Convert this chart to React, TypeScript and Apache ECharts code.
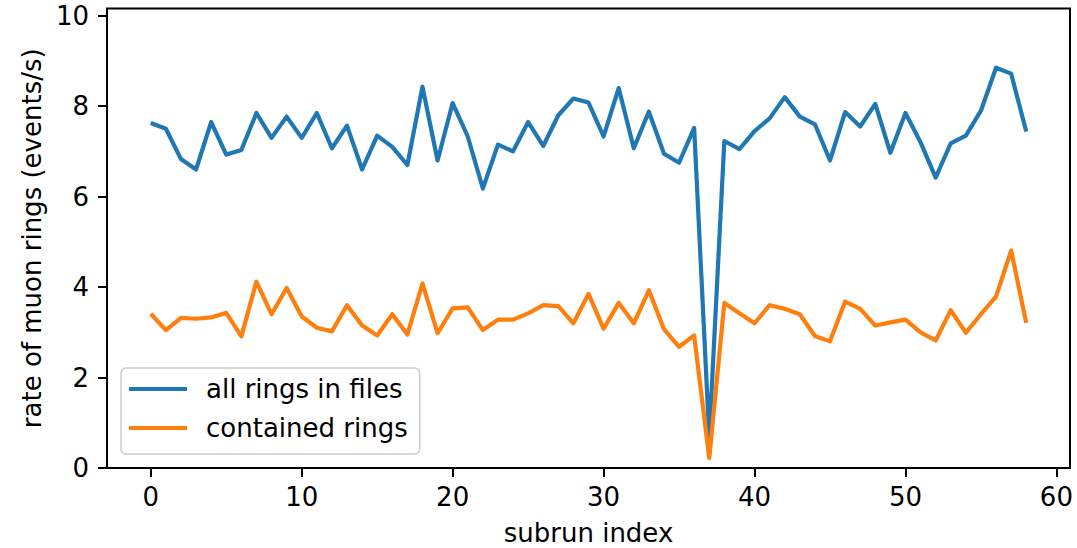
import React, { useEffect, useRef } from "react";
import * as echarts from "echarts";

const subrunIndex: number[] = Array.from({ length: 59 }, (_, i) => i);

const allRings: number[] = [
  7.63, 7.5, 6.83, 6.6, 7.65, 6.93, 7.03, 7.85, 7.3, 7.77,
  7.3, 7.85, 7.07, 7.57, 6.6, 7.35, 7.1, 6.7, 8.43, 6.8,
  8.07, 7.33, 6.18, 7.15, 7.0, 7.65, 7.12, 7.8, 8.17, 8.08,
  7.33, 8.4, 7.07, 7.88, 6.95, 6.75, 7.52, 0.68, 7.23, 7.05,
  7.45, 7.73, 8.2, 7.77, 7.6, 6.8, 7.87, 7.55, 8.05, 6.97,
  7.85, 7.2, 6.42, 7.18, 7.35, 7.9, 8.85, 8.72, 7.44,
];

const containedRings: number[] = [
  3.41, 3.05, 3.32, 3.3, 3.33, 3.43, 2.91, 4.12, 3.4, 3.98,
  3.35, 3.1, 3.02, 3.6, 3.15, 2.93, 3.4, 2.95, 4.08, 2.98,
  3.53, 3.55, 3.05, 3.28, 3.28, 3.42, 3.6, 3.58, 3.2, 3.85,
  3.08, 3.65, 3.2, 3.93, 3.07, 2.68, 2.93, 0.22, 3.65, 3.42,
  3.2, 3.6, 3.52, 3.4, 2.92, 2.8, 3.68, 3.52, 3.15, 3.22,
  3.28, 3.0, 2.82, 3.49, 2.99, 3.4, 3.79, 4.81, 3.21,
];

const xTicks: number[] = [0, 10, 20, 30, 40, 50, 60];
const yTicks: number[] = [0, 2, 4, 6, 8, 10];

const seriesNames: string[] = ["all rings in files", "contained rings"];
const seriesColors: string[] = ["#1f77b4", "#ff7f0e"];

const FONT = "DejaVu Sans";

export default function App() {
  const ref = useRef<HTMLDivElement>(null);

  useEffect(() => {
    if (!ref.current) return;
    const chart = echarts.init(ref.current, undefined, { renderer: "svg" });
    const seriesData = [allRings, containedRings];
    chart.setOption({
      animation: false,
      backgroundColor: "#ffffff",
      textStyle: { fontFamily: FONT },
      grid: {
        left: 107,
        right: 7,
        top: 8.5,
        bottom: 80,
        containLabel: false,
        outerBoundsMode: "none",
        show: true,
        borderColor: "#000000",
        borderWidth: 2,
        backgroundColor: "transparent",
      },
      legend: {
        orient: "vertical",
        left: 121,
        top: 368,
        padding: [7, 12, 12, 8],
        icon: "rect",
        itemWidth: 58,
        itemHeight: 4,
        itemGap: 11,
        backgroundColor: "rgba(255,255,255,0.8)",
        borderColor: "#cccccc",
        borderWidth: 1.5,
        borderRadius: 5,
        textStyle: {
          fontFamily: FONT,
          fontSize: 26,
          lineHeight: 28,
          color: "#000000",
          padding: [0, 0, 0, 14],
        },
        data: seriesNames,
      },
      xAxis: {
        type: "value",
        min: -2.9,
        max: 60.9,
        name: "subrun index",
        nameLocation: "middle",
        nameGap: 53,
        nameTextStyle: {
          fontFamily: FONT,
          fontSize: 26,
          lineHeight: 24,
          color: "#000000",
        },
        axisLine: { show: false, onZero: false },
        splitLine: { show: false },
        axisTick: {
          show: true,
          length: 9,
          customValues: xTicks,
          lineStyle: { color: "#000000", width: 2 },
        },
        axisLabel: {
          customValues: xTicks,
          margin: 16,
          fontFamily: FONT,
          fontSize: 26,
          color: "#000000",
        },
      },
      yAxis: {
        type: "value",
        min: 0,
        max: 10.16,
        name: "rate of muon rings (events/s)",
        nameLocation: "middle",
        nameGap: 62,
        nameTextStyle: { fontFamily: FONT, fontSize: 26, color: "#000000" },
        axisLine: { show: false, onZero: false },
        splitLine: { show: false },
        axisTick: {
          show: true,
          length: 9,
          customValues: yTicks,
          lineStyle: { color: "#000000", width: 2 },
        },
        axisLabel: {
          customValues: yTicks,
          margin: 18,
          fontFamily: FONT,
          fontSize: 26,
          color: "#000000",
        },
      },
      series: seriesNames.map((name, k) => ({
        name,
        type: "line",
        data: subrunIndex.map((x, i) => [x, seriesData[k][i]]),
        symbol: "none",
        showSymbol: false,
        color: seriesColors[k],
        itemStyle: { color: seriesColors[k] },
        lineStyle: { color: seriesColors[k], width: 4.2, join: "round" },
      })),
    });
    return () => chart.dispose();
  }, []);

  return (
    <div
      ref={ref}
      style={{ position: "fixed", left: 0, top: 0, width: 1077, height: 548 }}
    />
  );
}
